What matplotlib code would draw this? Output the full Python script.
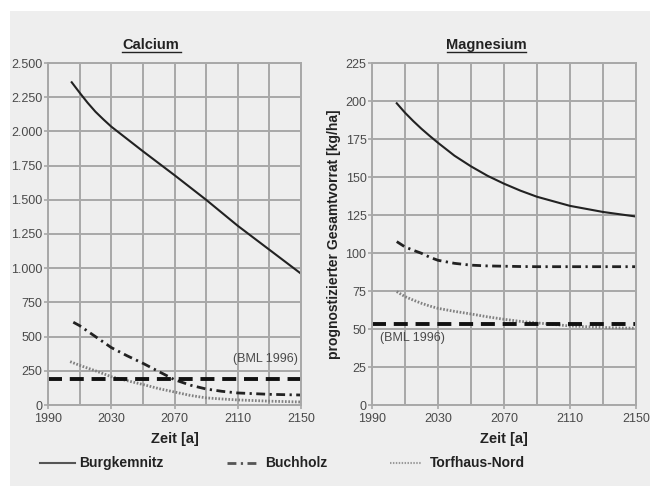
import matplotlib
matplotlib.use("Agg")
import matplotlib.pyplot as plt
from matplotlib.patches import Rectangle
from matplotlib.lines import Line2D
from matplotlib.ticker import FixedLocator, FuncFormatter

plt.rcParams['font.family'] = ['Liberation Sans', 'DejaVu Sans']

# ---- data ----
years_ca_b = [2005, 2010, 2015, 2020, 2025, 2030, 2050, 2070, 2090, 2110, 2130, 2150]
ca_burg = [2359, 2283, 2210, 2144, 2088, 2035, 1855, 1680, 1500, 1310, 1135, 960]
years_ca_bu = [2006, 2010, 2020, 2030, 2040, 2050, 2060, 2070, 2080, 2090, 2100, 2110, 2130, 2150]
ca_buch = [605, 580, 500, 420, 360, 305, 245, 185, 145, 117, 100, 88, 78, 73]
years_ca_t = [2004, 2010, 2020, 2030, 2040, 2050, 2060, 2070, 2080, 2090, 2100, 2110, 2130, 2150]
ca_torf = [317, 290, 250, 207, 178, 150, 120, 95, 70, 52, 44, 37, 28, 22]
ca_bml = 190

years_mg = [2005, 2010, 2015, 2020, 2025, 2030, 2040, 2050, 2060, 2070, 2080, 2090,
            2100, 2110, 2120, 2130, 2140, 2150]
mg_burg = [198.5, 192.3, 186.8, 181.7, 177, 172.5, 164, 157, 150.8, 145.6, 141, 137,
           134, 131, 129, 127, 125.5, 124]
mg_buch = [107.5, 104, 101.8, 99.8, 97.2, 95.2, 93.2, 92, 91.5, 91.3, 91.1, 91,
           91, 91, 91, 91, 91, 91]
mg_torf = [74.6, 71.3, 69, 66.9, 65.1, 63.6, 61.6, 59.9, 58, 56.4, 55, 54,
           53, 52, 51.5, 51, 50.7, 50.5]
mg_bml = 53

series_names = ["Burgkemnitz", "Buchholz", "Torfhaus-Nord"]
ylabel = "prognostizierter Gesamtvorrat [kg/ha]"
xlabel = "Zeit [a]"
titles = ["Calcium", "Magnesium"]
bml_label = "(BML 1996)"

# ---- styles ----
bg = "#eeeeee"
gridc = "#a8a8a8"
textc = "#4a4a4a"
styles = [
    dict(color="#222222", lw=1.5, ls="-"),
    dict(color="#222222", lw=2.0, ls=(0, (3.2, 1.6, 0.8, 1.6))),
    dict(color="#808080", lw=2.0, ls=(0, (0.6, 0.6))),
]
leg_styles = [
    dict(color="#555555", lw=1.5, ls="-"),
    dict(color="#555555", lw=2.0, ls=(0, (3.2, 1.6, 0.8, 1.6))),
    dict(color="#999999", lw=1.5, ls=(0, (0.7, 0.7))),
]
bml_style = dict(color="#111111", lw=2.8, ls=(0, (3.6, 2.0)))

fig = plt.figure(figsize=(6.53, 4.92), dpi=100)
fig.patch.set_facecolor("white")
fig.patches.append(Rectangle((10/653, 1-486/492), 640/653, 475/492,
                             transform=fig.transFigure, facecolor=bg,
                             edgecolor="none", zorder=-10))

def thousands(v, pos):
    return f"{int(v):,}".replace(",", ".")

def setup(ax, ymax, ystep, fmt):
    ax.set_facecolor(bg)
    ax.set_xlim(1990, 2150)
    ax.set_ylim(0, ymax)
    ax.xaxis.set_major_locator(FixedLocator([1990, 2030, 2070, 2110, 2150]))
    ax.xaxis.set_minor_locator(FixedLocator(list(range(1990, 2151, 20))))
    ax.yaxis.set_major_locator(FixedLocator(list(range(0, ymax + 1, ystep))))
    ax.yaxis.set_major_formatter(FuncFormatter(fmt))
    ax.grid(True, which="both", axis="x", color=gridc, lw=1.4)
    ax.grid(True, which="major", axis="y", color=gridc, lw=1.4)
    ax.set_axisbelow(True)
    for s in ax.spines.values():
        s.set_color(gridc)
        s.set_linewidth(1.4)
    ax.tick_params(axis="both", which="both", colors=gridc, labelcolor=textc,
                   labelsize=9, length=3, width=1.2)
    ax.tick_params(axis="y", pad=1)
    ax.tick_params(axis="x", pad=3)
    ax.tick_params(axis="x", which="minor", length=0)
    ax.set_xlabel(xlabel, fontsize=10.5, fontweight="bold", color="#222222",
                  labelpad=5)

axL = fig.add_axes([48/653, 1-405/492, 253/653, 342/492])
axR = fig.add_axes([372/653, 1-405/492, 264/653, 342/492])

setup(axL, 2500, 250, thousands)
setup(axR, 225, 25, lambda v, p: f"{int(v)}")

axL.plot(years_ca_b, ca_burg, **styles[0])
axL.plot(years_ca_bu, ca_buch, **styles[1])
axL.plot(years_ca_t, ca_torf, **styles[2])
axL.axhline(ca_bml, **bml_style)
axL.text(2148, 290, bml_label, ha="right", va="bottom", fontsize=9, color=textc)

axR.plot(years_mg, mg_burg, **styles[0])
axR.plot(years_mg, mg_buch, **styles[1])
axR.plot(years_mg, mg_torf, **styles[2])
axR.axhline(mg_bml, **bml_style)
axR.text(1995, 48, bml_label, ha="left", va="top", fontsize=9, color=textc)

axR.set_ylabel(ylabel, fontsize=10, fontweight="bold", color="#222222", labelpad=3)

# titles
for x, t in [(151/653, titles[0]), (486/653, titles[1])]:
    fig.text(x, 1-45/492, t, ha="center", va="center", fontsize=10.5,
             fontweight="bold", color="#222222")
# underline titles
for x0, x1 in [(122/653, 181/653), (447/653, 526/653)]:
    fig.lines.append(Line2D([x0, x1], [1-52/492, 1-52/492], transform=fig.transFigure,
                            color="#222222", lw=1))

# legend
leg_items = [(40, 75, 79), (227, 258, 265), (390, 421, 430)]
for (l0, l1, tx), name, st in zip(leg_items, series_names, leg_styles):
    yy = 1-463/492
    fig.lines.append(Line2D([l0/653, l1/653], [yy, yy], transform=fig.transFigure, **st))
    fig.text(tx/653, yy, name, ha="left", va="center", fontsize=10,
             fontweight="bold", color="#222222")

fig.savefig("out.png", dpi=100, facecolor=fig.get_facecolor())
